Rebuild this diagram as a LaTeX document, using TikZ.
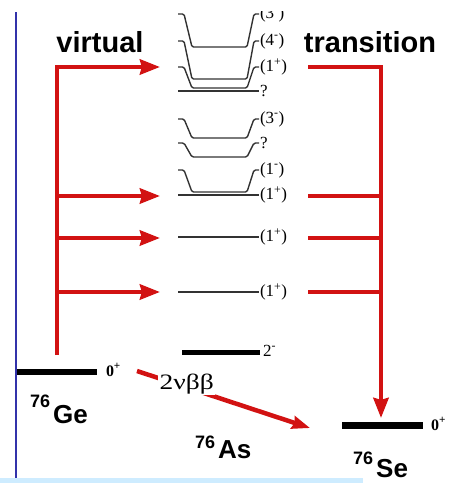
\documentclass[tikz,border=0pt]{standalone}
\usepackage{fontspec}
\setmainfont{Liberation Serif}
\newfontfamily\arialf{Liberation Sans}
\usepackage{graphicx}
\usetikzlibrary{arrows.meta}
\definecolor{arrred}{RGB}{210,18,18}
\definecolor{lvlgray}{RGB}{50,50,50}
\definecolor{axisblue}{RGB}{50,50,170}
\definecolor{bandblue}{RGB}{206,236,255}
\newcommand{\lvlab}[2]{(#1\textsuperscript{#2})}
\newcommand{\bucketlvl}[4]{\draw[lvl] (178,#1) -- (184,#1) -- (192,#2) -- (247,#2) -- (254,#1) -- (259,#1) node[lab] (#4) {#3};}
\newcommand{\flatlvl}[3]{\draw[lvl] (178,#1) -- (259,#1) node[lab] (#3) {#2};}
\begin{document}
\begin{tikzpicture}[x=1pt,y=-1pt,
  redline/.style={draw=arrred,line width=4.5pt},
  redarrow/.style={redline,-{Stealth[length=20pt,width=15pt,inset=2pt]}},
  lvl/.style={draw=lvlgray,line width=1.4pt,rounded corners=1.5pt},
  lab/.style={font=\fontsize{17}{17}\selectfont,inner sep=0pt,outer sep=0pt,anchor=west,text=black,xshift=1pt},
  bar/.style={fill=black,inner sep=0pt},
  iso/.style={font=\arialf\bfseries,inner sep=0pt,anchor=base west},
  big/.style={font=\arialf\bfseries\fontsize{29}{30}\selectfont,inner sep=0pt,anchor=base}
]
\useasboundingbox (0,0) rectangle (461,483);
\fill[bandblue] (0,478) rectangle (363,483);
\begin{scope}
\clip (0,11) rectangle (461,483);
% axis line
\draw[axisblue,line width=1.2pt] (16,12) -- (16,478);
% titles
\node[big] (virt) at (100,52) {virtual};
\node[big] (trans) at (370,52) {transition};
% 76As levels
\bucketlvl{14}{47}{\lvlab{3}{-}}{lA}
\bucketlvl{41}{79}{\lvlab{4}{-}}{lB}
\bucketlvl{67}{88}{\lvlab{1}{+}}{lC}
\flatlvl{91}{?}{lQ}
\bucketlvl{119}{138}{\lvlab{3}{-}}{lD}
\bucketlvl{143}{157}{?}{lE}
\bucketlvl{170}{192}{\lvlab{1}{-}}{lF}
\flatlvl{195}{\lvlab{1}{+}}{lG}
\flatlvl{237}{\lvlab{1}{+}}{lH}
\flatlvl{292}{\lvlab{1}{+}}{lI}
% ground levels
\node[bar,minimum width=80pt,minimum height=6pt] (ge) at (57,372) {};
\node[bar,minimum width=78pt,minimum height=5pt] (as) at (221,352) {};
\node[bar,minimum width=81pt,minimum height=7pt] (se) at (382,425) {};
\node[lab,anchor=base west,font=\bfseries\fontsize{16}{16}\selectfont] (ge0) at (105,376) {0\textsuperscript{+}};
\node[lab,anchor=base west,font=\bfseries\fontsize{16}{16}\selectfont] (se0) at (430,430) {0\textsuperscript{+}};
\node[lab,anchor=base west] (as2) at (262,356) {2\textsuperscript{-}};
% isotope names
\node[iso] (geL) at (30,423) {\raisebox{16pt}{\fontsize{18}{18}\selectfont 76}\hspace{3pt}{\fontsize{26}{26}\selectfont Ge}};
\node[iso] (asL) at (195,458) {\raisebox{10pt}{\fontsize{18}{18}\selectfont 76}\hspace{3pt}{\fontsize{26}{26}\selectfont As}};
\node[iso] (seL) at (353,477) {\raisebox{13pt}{\fontsize{18}{18}\selectfont 76}\hspace{3pt}{\fontsize{26}{26}\selectfont Se}};
% red virtual transition arrows
\coordinate (LB) at (57,355);
\coordinate (LT) at (57,67);
\coordinate (tC) at (160,67);
\coordinate (tG) at (160,196);
\coordinate (tH) at (160,238);
\coordinate (tI) at (160,292);
\draw[redarrow] (LB) -- (LT) -- (tC);
\draw[redarrow] (LT |- tG) -- (tG);
\draw[redarrow] (LT |- tH) -- (tH);
\draw[redarrow] (LT |- tI) -- (tI);
\coordinate (RT) at (381,67);
\coordinate (oC) at (308,67);
\coordinate (oG) at (308,196);
\coordinate (oH) at (308,238);
\coordinate (oI) at (308,292);
\coordinate (RTip) at (381,418);
\draw[redarrow] (oC) -- (RT) -- (RTip);
\draw[redline] (oG) -- (RT |- oG);
\draw[redline] (oH) -- (RT |- oH);
\draw[redline] (oI) -- (RT |- oI);
% 2nu beta beta
\coordinate (bbS) at (137,371);
\coordinate (bbE) at (310,428);
\draw[redarrow,-{Stealth[length=18pt,width=13pt,inset=2pt]}] (bbS) -- (bbE);
\node[fill=white,inner sep=1.5pt,anchor=base west,font=\fontsize{22}{22}\selectfont] (bb) at (158,389) {\scalebox{1.25}[1]{2νββ}};
\end{scope}
\end{tikzpicture}
\end{document}
